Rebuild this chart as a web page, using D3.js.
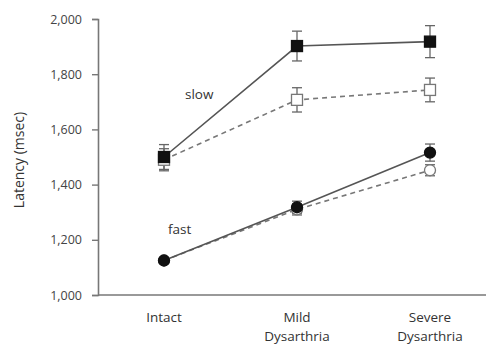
<!DOCTYPE html>
<html><head><meta charset="utf-8">
<script src="https://cdn.jsdelivr.net/npm/d3@7"></script>
<style>body{margin:0;background:#fff}svg{display:block}text{font-family:"Open Sans",sans-serif;fill:#333}</style>
</head><body><svg id="c" width="486" height="345"></svg>
<script>
const categories = [["Intact"], ["Mild","Dysarthria"], ["Severe","Dysarthria"]];
const catKeys = ["Intact","Mild","Severe"];
const yTicks = [1000,1200,1400,1600,1800,2000];
const slowSolid = [1500, 1902, 1918];
const slowSolidErr = [45, 54, 58];
const slowDashed = [1490, 1707, 1743];
const slowDashedErr = [40, 44, 43];
const fastSolid = [1125, 1318, 1516];
const fastSolidErr = [10, 22, 31];
const fastDashed = [1125, 1310, 1452];
const fastDashedErr = [10, 20, 20];

const svg = d3.select("#c");
const x = d3.scalePoint().domain(catKeys).range([164, 430]);
const y = d3.scaleLinear().domain([1000, 2000]).range([295, 19]);

// axes
const yAxis = d3.axisLeft(y).tickValues(yTicks).tickSize(6).tickPadding(10).tickFormat(d3.format(","));
const gy = svg.append("g").attr("transform","translate(98,0)").call(yAxis);
gy.select(".domain").attr("stroke","#777").attr("stroke-width",1.6);
gy.selectAll(".tick line").attr("stroke","#777").attr("stroke-width",1.4);
gy.selectAll(".tick text").attr("font-size",12.5).style("fill","#444").style("font-family","'Open Sans',sans-serif");
svg.append("line").attr("x1",98).attr("x2",486).attr("y1",y(1000)).attr("y2",y(1000)).attr("stroke","#777").attr("stroke-width",1.6);

// x labels
catKeys.forEach((k,i)=>{
  const t = svg.append("text").attr("x",x(k)).attr("y",322).attr("text-anchor","middle").attr("font-size",13.5);
  categories[i].forEach((s,j)=>t.append("tspan").attr("x",x(k)).attr("dy", j===0?0:19).text(s));
});
svg.append("text").attr("transform","translate(24,160) rotate(-90)").attr("text-anchor","middle").attr("font-size",14).text("Latency (msec)");

const line = d3.line().x((d,i)=>x(catKeys[i])).y(d=>y(d));
function series(vals, dashed){
  svg.append("path").datum(vals).attr("d",line).attr("fill","none")
    .attr("stroke", dashed?"#777":"#555").attr("stroke-width",1.6)
    .attr("stroke-dasharray", dashed?"5,4":null);
}
function errs(vals, e){
  vals.forEach((v,i)=>{
    const cx = x(catKeys[i]);
    const g = svg.append("g").attr("stroke","#666").attr("stroke-width",1.3);
    g.append("line").attr("x1",cx).attr("x2",cx).attr("y1",y(v+e[i])).attr("y2",y(v-e[i]));
    [v+e[i], v-e[i]].forEach(w=>g.append("line").attr("x1",cx-5).attr("x2",cx+5).attr("y1",y(w)).attr("y2",y(w)));
  });
}
function squares(vals, filled){
  vals.forEach((v,i)=>svg.append("rect").attr("x",x(catKeys[i])-5.5).attr("y",y(v)-5.5).attr("width",11).attr("height",11)
    .attr("fill", filled?"#111":"#fff").attr("stroke", filled?"#111":"#777").attr("stroke-width",1.3));
}
function circles(vals, filled){
  vals.forEach((v,i)=>svg.append("circle").attr("cx",x(catKeys[i])).attr("cy",y(v)).attr("r",5.5)
    .attr("fill", filled?"#111":"#fff").attr("stroke", filled?"#111":"#777").attr("stroke-width",1.3));
}

series(slowDashed, true); series(slowSolid, false);
series(fastDashed, true); series(fastSolid, false);
errs(slowDashed, slowDashedErr); errs(slowSolid, slowSolidErr);
errs(fastDashed, fastDashedErr); errs(fastSolid, fastSolidErr);
squares(slowDashed, false); squares(slowSolid, true);
circles(fastDashed, false); circles(fastSolid, true);

svg.append("text").attr("x",185).attr("y",99).attr("font-size",13.5).text("slow");
svg.append("text").attr("x",168).attr("y",234).attr("font-size",13.5).text("fast");
</script></body></html>
